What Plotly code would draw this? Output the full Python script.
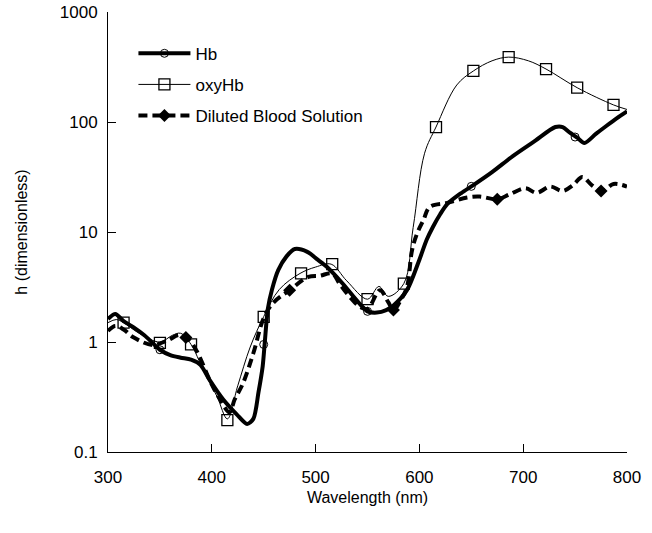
import plotly.graph_objects as go

# ---- Data ----
hb_x = [300, 307, 315, 324, 335, 343, 350, 360, 370, 380, 389, 398, 411, 424, 434, 440, 445, 449, 451,
        454, 458, 464, 472, 480, 492, 502, 511, 526, 543, 550, 559, 568, 575, 588, 600, 607, 613, 620,
        627, 640, 652, 670, 690, 710, 731, 738, 745, 752, 759, 770, 780, 790, 800]
hb_y = [1.62, 1.8, 1.55, 1.37, 1.15, 0.98, 0.85, 0.76, 0.72, 0.69, 0.62, 0.45, 0.30, 0.22, 0.18, 0.2,
        0.35, 0.6, 0.98, 2.0, 3.0, 4.5, 6.0, 7.0, 6.6, 5.6, 4.8, 3.4, 2.2, 1.9, 1.85, 1.95, 2.15, 2.96,
        5.6, 8.5, 11.1, 14.5, 18, 22.5, 26.7, 35, 49, 66, 90, 90, 80, 72, 64.5, 78, 92, 108, 125]
hb_mx = [350, 450, 550, 650, 750]
hb_my = [0.85, 0.95, 1.9, 26, 73]

oxy_x = [300, 308, 315, 330, 350, 362, 370, 380, 392, 405, 415, 425, 437, 450, 465, 485, 500, 515,
         530, 550, 561, 570, 585, 594, 605, 616, 636, 652, 670, 686, 705, 722, 752, 787, 800]
oxy_y = [1.5, 1.6, 1.5, 1.2, 1.0, 1.15, 1.2, 0.95, 0.55, 0.32, 0.2, 0.4, 0.9, 1.7, 3.0, 4.2, 4.8, 5.1,
         3.6, 2.45, 3.2, 2.6, 3.4, 11, 52, 90, 217, 291, 360, 389, 360, 303, 205, 143, 130]
oxy_mx = [315, 350, 380, 415, 450, 486, 516, 550, 585, 616, 652, 686, 722, 752, 787]
oxy_my = [1.5, 0.98, 0.95, 0.195, 1.69, 4.2, 5.1, 2.45, 3.4, 90, 291, 389, 303, 205, 143]

dil_x = [300, 307, 315, 324, 343, 357, 369, 378, 386, 398, 408, 417, 422, 430, 440, 450, 459, 475, 493,
         504, 516, 523, 533, 543, 550, 562, 570, 575, 582, 588, 593, 598, 604, 610, 627, 646, 658, 675,
         687, 702, 713, 726, 738, 748, 757, 766, 776, 787, 800]
dil_y = [1.26, 1.4, 1.3, 1.11, 0.94, 1.03, 1.16, 1.05, 0.81, 0.45, 0.3, 0.23, 0.3, 0.42, 0.79, 1.65,
         2.26, 2.96, 3.9, 4.0, 4.2, 3.4, 2.57, 2.08, 2.0, 2.96, 2.3, 1.95, 2.4, 3.16, 6.9, 9.8, 12.9,
         16.9, 18.4, 20.6, 21, 19.9, 22, 25, 22.7, 25.9, 23.6, 26.7, 31.6, 26.7, 23.6, 27.3, 25.9]
dil_mx = [375, 475, 575, 675, 775]
dil_my = [1.1, 2.96, 1.95, 19.9, 23.6]

y_ticks = [0.1, 1, 10, 100, 1000]
y_ticktext = ["0.1", "1", "10", "100", "1000"]
x_ticks = [300, 400, 500, 600, 700, 800]

FONT = "Liberation Sans, Arial, sans-serif"

fig = go.Figure()

series = [
    ("Hb", hb_x, hb_y, hb_mx, hb_my,
     dict(color="black", width=4, shape="spline", smoothing=0.8),
     dict(symbol="circle-open", size=8, color="black", line=dict(width=1, color="black"))),
    ("oxyHb", oxy_x, oxy_y, oxy_mx, oxy_my,
     dict(color="black", width=1, shape="spline"),
     dict(symbol="square-open", size=11, color="black", line=dict(width=1.3, color="black"))),
    ("Diluted Blood Solution", dil_x, dil_y, dil_mx, dil_my,
     dict(color="black", width=4, dash="9px,5px", shape="spline"),
     dict(symbol="diamond", size=10, color="black", line=dict(width=0))),
]

for name, x, y, mx, my, line, marker in series:
    fig.add_trace(go.Scatter(x=x, y=y, mode="lines", line=line, showlegend=False,
                             legendgroup=name, hoverinfo="skip", cliponaxis=True))
    fig.add_trace(go.Scatter(x=mx, y=my, mode="markers", marker=marker, showlegend=False,
                             legendgroup=name))
    leg_line = {k: v for k, v in line.items() if k not in ("shape", "smoothing")}
    fig.add_trace(go.Scatter(x=[None], y=[None], mode="lines+markers", name=name,
                             legendgroup=name, line=leg_line, marker=marker))

fig.update_layout(
    width=652, height=533,
    margin=dict(l=108, r=25, t=12, b=81),
    paper_bgcolor="white", plot_bgcolor="white",
    font=dict(family=FONT, size=17, color="black"),
    showlegend=True,
    legend=dict(x=0.049, y=0.946, xanchor="left", yanchor="top",
                bgcolor="rgba(0,0,0,0)", font=dict(size=17), itemwidth=52,
                tracegroupgap=6),
    xaxis=dict(range=[300, 800], tickvals=x_ticks, ticks="inside", ticklen=8,
               tickcolor="black", showline=True, linecolor="black", linewidth=1,
               showgrid=False, zeroline=False, ticklabelstandoff=10, automargin=False,
               tickfont=dict(size=17), ticklabeloverflow="allow",
               title=dict(text="Wavelength (nm)", font=dict(size=16), standoff=5)),
    yaxis=dict(type="log", range=[-1, 3], tickvals=y_ticks, ticktext=y_ticktext,
               ticks="inside", ticklen=8, tickcolor="black", showline=True,
               linecolor="black", linewidth=1, showgrid=False, zeroline=False,
               ticklabelstandoff=6, tickfont=dict(size=17), automargin=False,
               ticklabeloverflow="allow",
               title=dict(text="h (dimensionless)", font=dict(size=16), standoff=28)),
)

fig.write_html("out.html", config={"displayModeBar": False},
               post_script="document.body.style.margin='0';document.body.style.overflow='hidden';")
